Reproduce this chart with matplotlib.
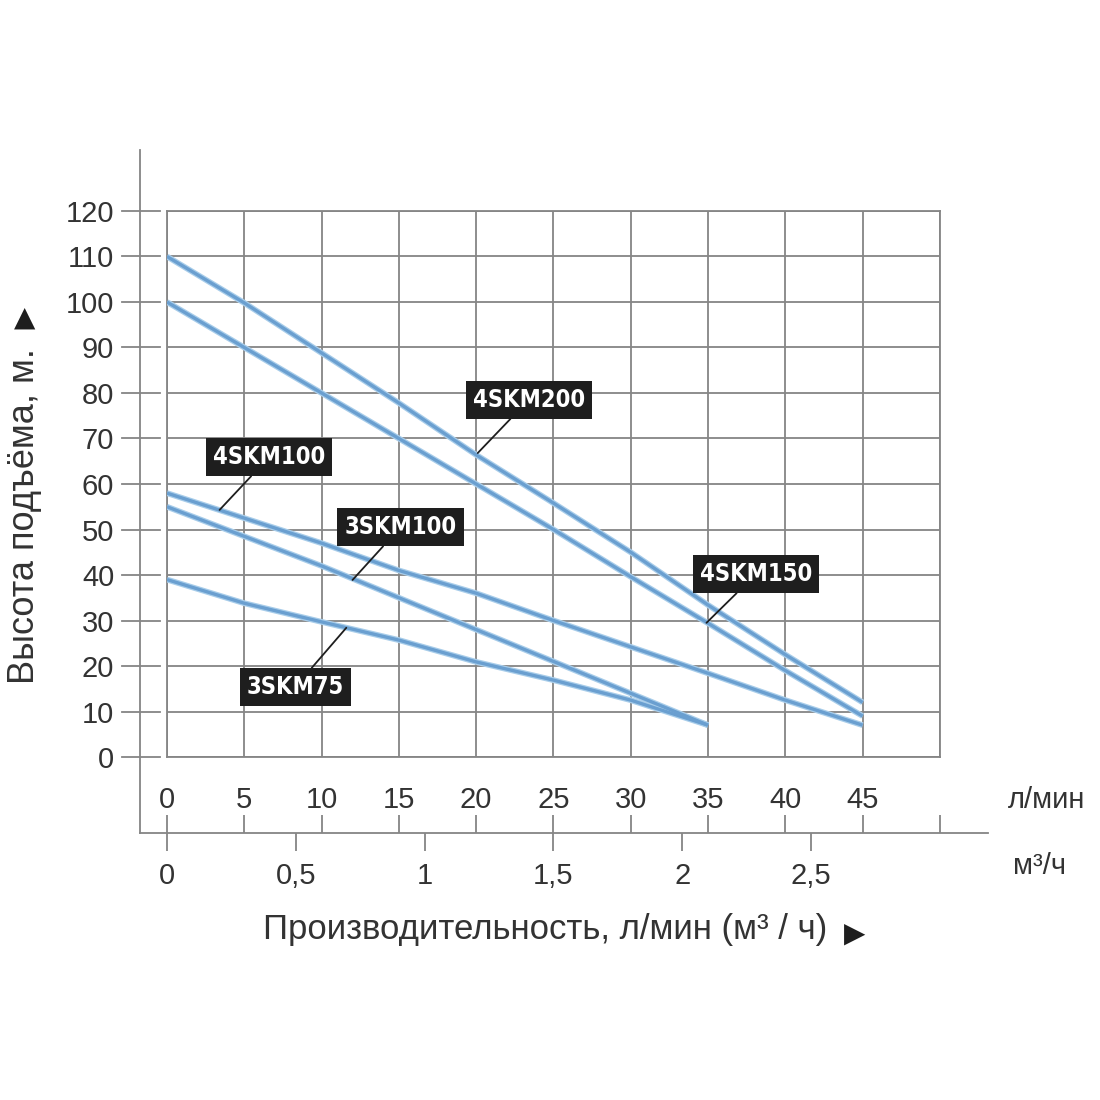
import numpy as np
import matplotlib
matplotlib.use('Agg')
from matplotlib import pyplot as plt
import matplotlib.transforms as mtransforms

plt.rcParams['font.family'] = ['Liberation Sans', 'DejaVu Sans']

# flow, l/min
q45 = [0, 5, 10, 15, 20, 25, 30, 35, 40, 45]
q35 = [0, 5, 10, 15, 20, 25, 30, 35]

# head, m
h_4skm200 = [110, 99.8, 88.8, 77.8, 66.4, 55.8, 45, 33.4, 22.5, 12]
h_4skm150 = [100, 90, 80, 70, 60, 50, 39.6, 29.4, 19, 9]
h_4skm100 = [58, 52.5, 47, 41, 36, 30, 24.2, 18.4, 12.5, 7]
h_3skm100 = [55, 48.5, 42, 35, 28, 21, 14, 7]
h_3skm75 = [39, 33.8, 29.7, 25.7, 20.9, 16.9, 12.5, 7]

# label text position and pointer tip (l/min, m)
labels = ['4SKM200', '4SKM150', '4SKM100', '3SKM100', '3SKM75']
label_xy = [(23.4, 78.5), (38.1, 40.2), (6.6, 65.9), (15.1, 50.5), (8.3, 15.4)]
tip_xy = [(20.1, 66.8), (34.9, 29.5), (3.4, 54.3), (12.0, 38.9), (11.6, 28.4)]

lpm_ticks = list(range(0, 55, 5))
lpm_labels = [str(v) for v in range(0, 50, 5)] + ['']
m3h_ticks = [0, 0.5, 1, 1.5, 2, 2.5]
m3h_labels = ['0', '0,5', '1', '1,5', '2', '2,5']
h_ticks = list(range(0, 130, 10))

grid_c = '#858585'
text_c = '#333333'
line_light = '#a8cdea'
line_dark = '#6a9fd0'

fig = plt.figure(figsize=(11, 11), dpi=100)
ax = fig.add_axes([0.1518, 0.3118, 0.7027, 0.4964])
ax.set_xlim(0, 50)
ax.set_ylim(0, 120)

ax.set_xticks(lpm_ticks)
ax.set_xticklabels(lpm_labels)
ax.set_yticks(h_ticks)
ax.grid(True, color=grid_c, lw=1.3)
ax.set_axisbelow(True)
for s in ax.spines.values():
    s.set_color(grid_c)
    s.set_linewidth(1.3)
ax.tick_params(axis='x', length=0, pad=21, labelsize=21, labelcolor=text_c)
ax.tick_params(axis='y', length=0, pad=38, labelsize=21, labelcolor=text_c)

for q, h in [(q45, h_4skm200), (q45, h_4skm150), (q45, h_4skm100),
             (q35, h_3skm100), (q35, h_3skm75)]:
    ax.plot(q, h, color=line_light, lw=4.2, solid_capstyle='butt', zorder=3)
    ax.plot(q, h, color=line_dark, lw=2.4, solid_capstyle='butt', zorder=4)

for name, xy, tip in zip(labels, label_xy, tip_xy):
    ax.annotate(name, xy=tip, xytext=xy, ha='center', va='center',
                fontsize=17, fontweight='bold', color='white',
                family='DejaVu Sans', fontstretch='condensed',
                bbox=dict(boxstyle='square,pad=0.3', fc='#1e1e1e', ec='none'),
                arrowprops=dict(arrowstyle='-', color='#1e1e1e', lw=1.3,
                                shrinkA=0, shrinkB=0),
                zorder=6)

# frame lines and y ticks outside the grid
base_y = -0.139
blend = mtransforms.blended_transform_factory(ax.transAxes, ax.transData)
for h in h_ticks:
    ax.plot([-0.058, -0.009], [h, h], transform=blend, color=grid_c,
            lw=1.3, clip_on=False)
ax.plot([-0.035, -0.035], [1.112, base_y], transform=ax.transAxes,
        color=grid_c, lw=1.3, clip_on=False)
ax.plot([-0.035, 1.062], [base_y, base_y], transform=ax.transAxes,
        color=grid_c, lw=1.3, clip_on=False)

# l/min ticks pointing up from the base line
sec1 = ax.secondary_xaxis(base_y)
sec1.set_xticks(lpm_ticks)
sec1.set_xticklabels([])
sec1.tick_params(direction='in', length=13, width=1.3, color=grid_c)
sec1.spines['bottom'].set_visible(False)

# m3/h scale below the base line
sec2 = ax.secondary_xaxis(base_y, functions=(lambda x: x * 0.06,
                                             lambda x: x / 0.06))
sec2.set_xticks(m3h_ticks)
sec2.set_xticklabels(m3h_labels)
sec2.tick_params(direction='out', length=13, width=1.3, color=grid_c,
                 pad=8, labelsize=21, labelcolor=text_c)
sec2.spines['bottom'].set_visible(False)

fig.text(1008 / 1100, 1 - 800 / 1100, 'л/мин', fontsize=21, color=text_c,
         ha='left', va='center')
fig.text(1013 / 1100, 1 - 866 / 1100, 'м\u00b3/ч', fontsize=21, color=text_c,
         ha='left', va='center')
fig.text(545 / 1100, 1 - 930 / 1100, 'Производительность, л/мин (м\u00b3 / ч)',
         fontsize=25, color=text_c, ha='center', va='center')
fig.text(855 / 1100, 1 - 934 / 1100, '\u25b6', fontsize=20, color='#1e1e1e',
         ha='center', va='center', family='DejaVu Sans')
fig.text(25 / 1100, 1 - 516 / 1100, 'Высота подъёма, м.', fontsize=26,
         color=text_c, rotation=90, ha='center', va='center')
fig.text(25 / 1100, 1 - 318 / 1100, '\u25b2', fontsize=20, color='#1e1e1e',
         ha='center', va='center', family='DejaVu Sans')

fig.savefig('out.png', dpi=100, facecolor='white')
